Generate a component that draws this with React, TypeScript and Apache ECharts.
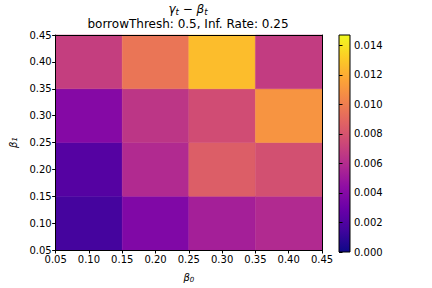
import React, { useEffect, useRef } from 'react';
import * as echarts from 'echarts';

const xCenters = [0.1, 0.2, 0.3, 0.4];
const yCenters = [0.1, 0.2, 0.3, 0.4];
// rows from bottom (beta1 = 0.10) to top (beta1 = 0.40), columns beta0 = 0.10..0.40
const values = [
  [0.0016, 0.0038, 0.0053, 0.0059],
  [0.0022, 0.0059, 0.0085, 0.0078],
  [0.004, 0.0065, 0.0076, 0.011],
  [0.0069, 0.0096, 0.0126, 0.0068],
];
const cellHalf = 0.05;
const axisMin = 0.05;
const axisMax = 0.45;
const axisStep = 0.05;
const cbMin = 0;
const cbMax = 0.0147;
const cbTicks = [0, 0.002, 0.004, 0.006, 0.008, 0.01, 0.012, 0.014];
const plasma = [
  '#0d0887', '#41049d', '#6a00a8', '#8f0da4', '#b12a90', '#cc4778',
  '#e16462', '#f2844b', '#fca636', '#fcce25', '#f0f921',
];
const titleLine1 = '{i|γ}{s|t}{n| − }{i|β}{s|t}';
const titleLine2 = 'borrowThresh: 0.5, Inf. Rate: 0.25';

const FONT = 'DejaVu Sans';

export default function App() {
  const ref = useRef<HTMLDivElement>(null);
  useEffect(() => {
    if (!ref.current) return;
    document.body.style.margin = '0';
    const chart = echarts.init(ref.current, null, { renderer: 'svg' });
    const data: number[][] = [];
    yCenters.forEach((y, r) => {
      xCenters.forEach((x, c) => {
        data.push([x, y, values[r][c]]);
      });
    });
    const labelStyle = { fontSize: 10, fontFamily: FONT, color: '#000' };
    const rich = {
      i: { fontSize: 12, fontStyle: 'italic', fontFamily: FONT, color: '#000' },
      s: { fontSize: 8.5, fontStyle: 'italic', fontFamily: FONT, color: '#000', padding: [5, 0, 0, 0] },
      n: { fontSize: 12, fontFamily: FONT, color: '#000' },
    };
    const axRich = {
      i: { fontSize: 10, fontStyle: 'italic', fontFamily: FONT, color: '#000' },
      s: { fontSize: 7, fontStyle: 'italic', fontFamily: FONT, color: '#000', padding: [4, 0, 0, 0] },
    };
    const valueAxisCommon = {
      type: 'value',
      min: axisMin,
      max: axisMax,
      interval: axisStep,
      splitLine: { show: false },
      axisLine: { show: true, onZero: false, lineStyle: { color: '#000', width: 1 } },
      z: 10,
    };
    chart.setOption({
      animation: false,
      grid: [
        { left: 54, right: 110, top: 35, bottom: 36 },
        { left: 339, width: 11, top: 35, bottom: 36 },
      ],
      visualMap: {
        type: 'continuous',
        show: false,
        min: cbMin,
        max: cbMax,
        dimension: 2,
        seriesIndex: 0,
        inRange: { color: plasma },
      },
      xAxis: [
        {
          ...valueAxisCommon,
          gridIndex: 0,
          position: 'bottom',
          axisTick: { show: true, length: 3.5, lineStyle: { color: '#000' } },
          axisLabel: { ...labelStyle, margin: 4, formatter: (v: number) => v.toFixed(2) },
          name: '{i|β}{s|0}',
          nameLocation: 'middle',
          nameGap: 22,
          nameTextStyle: { rich: axRich },
        },
        {
          ...valueAxisCommon,
          gridIndex: 0,
          position: 'top',
          axisTick: { show: false },
          axisLabel: { show: false },
        },
        {
          type: 'value',
          gridIndex: 1,
          min: 0,
          max: 1,
          show: false,
        },
      ],
      yAxis: [
        {
          ...valueAxisCommon,
          gridIndex: 0,
          position: 'left',
          axisTick: { show: true, length: 3.5, lineStyle: { color: '#000' } },
          axisLabel: { ...labelStyle, margin: 4, formatter: (v: number) => v.toFixed(2) },
          name: '{i|β}{s|1}',
          nameLocation: 'middle',
          nameGap: 37,
          nameRotate: 90,
          nameTextStyle: { rich: axRich },
        },
        {
          ...valueAxisCommon,
          gridIndex: 0,
          position: 'right',
          axisTick: { show: false },
          axisLabel: { show: false },
        },
        {
          type: 'value',
          gridIndex: 1,
          position: 'right',
          min: cbMin,
          max: cbMax,
          splitLine: { show: false },
          axisLine: { show: false },
          axisTick: { show: true, length: 3.5, lineStyle: { color: '#000' }, customValues: cbTicks },
          axisLabel: { ...labelStyle, margin: 4, customValues: cbTicks, formatter: (v: number) => v.toFixed(3) },
          z: 10,
        },
      ],
      graphic: [
        {
          type: 'text',
          x: 188,
          y: 2,
          style: { text: titleLine1, align: 'center', fontFamily: FONT, fontSize: 12, fill: '#000', rich },
        },
        {
          type: 'text',
          x: 188,
          y: 18,
          style: { text: titleLine2, align: 'center', fontFamily: FONT, fontSize: 12, fill: '#000' },
        },
      ],
      series: [
        {
          type: 'custom',
          xAxisIndex: 0,
          yAxisIndex: 0,
          encode: { x: 0, y: 1 },
          data,
          renderItem: (params: any, api: any) => {
            const x = api.value(0);
            const y = api.value(1);
            const p0 = api.coord([x - cellHalf, y + cellHalf]);
            const p1 = api.coord([x + cellHalf, y - cellHalf]);
            const color = api.visual('color');
            return {
              type: 'rect',
              shape: { x: p0[0], y: p0[1], width: p1[0] - p0[0], height: p1[1] - p0[1] },
              style: { fill: color, stroke: color, lineWidth: 0.5 },
            };
          },
        },
        {
          type: 'custom',
          xAxisIndex: 2,
          yAxisIndex: 2,
          data: [[0, cbMin, cbMax]],
          encode: { x: 0, y: 2 },
          renderItem: (params: any, api: any) => {
            const p0 = api.coord([0, api.value(2)]);
            const p1 = api.coord([1, api.value(1)]);
            return {
              type: 'rect',
              shape: { x: p0[0], y: p0[1], width: p1[0] - p0[0], height: p1[1] - p0[1] },
              style: {
                fill: new echarts.graphic.LinearGradient(
                  0, 1, 0, 0,
                  plasma.map((c, i) => ({ offset: i / (plasma.length - 1), color: c }))
                ),
                stroke: '#000',
                lineWidth: 1,
              },
            };
          },
        },
      ],
    });
    return () => chart.dispose();
  }, []);
  return <div ref={ref} style={{ width: 432, height: 288 }} />;
}
